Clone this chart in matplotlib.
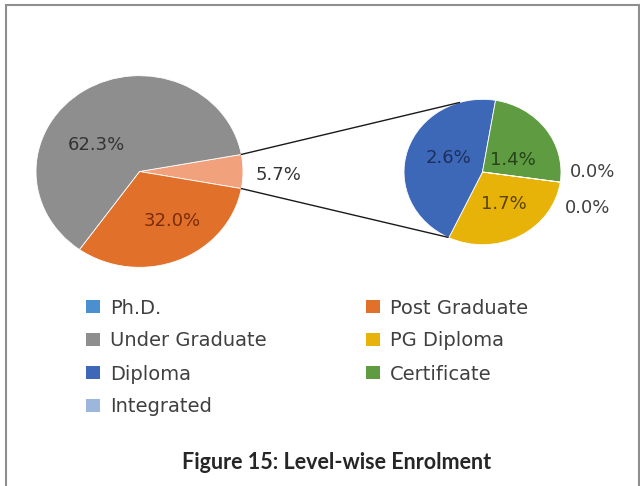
import numpy as np
import matplotlib
matplotlib.use("Agg")
import matplotlib.pyplot as plt
from matplotlib.patches import Patch, Rectangle

# ---------------- data ----------------
main_labels = ["Post Graduate", "Under Graduate"]
main_values = [32.0, 62.3]
sub_labels = ["PG Diploma", "Diploma", "Certificate", "Integrated", "Ph.D."]
sub_values = [1.7, 2.6, 1.4, 0.0, 0.0]
legend_order = ["Ph.D.", "Post Graduate", "Under Graduate", "PG Diploma",
                "Diploma", "Certificate", "Integrated"]
title = "Figure 15: Level-wise Enrolment"

# ---------------- style ----------------
colors = {
    "Ph.D.": "#4a8fd0",
    "Post Graduate": "#e0702a",
    "Under Graduate": "#8e8e8e",
    "PG Diploma": "#e8b308",
    "Diploma": "#3d68b8",
    "Certificate": "#5f9b40",
    "Integrated": "#9cb7db",
}
other_color = "#f1a27c"
label_colors = {
    "Post Graduate": "#7a2c0a",
    "Under Graduate": "#333333",
    "other": "#333333",
    "PG Diploma": "#5a4300",
    "Diploma": "#1c2f5e",
    "Certificate": "#26431a",
    "Integrated": "#404040",
    "Ph.D.": "#404040",
}

W, H = 640, 486
S = 1.08  # horizontal stretch of the original screenshot


def Y(y_img):
    return (H - y_img) * S


fig = plt.figure(figsize=(6.4, 4.86), dpi=100)
ax = fig.add_axes([0, 0, 1, 1])

# left pie
other_value = sum(sub_values)
left_vals = [other_value] + main_values
left_cols = [other_color] + [colors[k] for k in main_labels]
lc = (139.5, Y(171.5))
lr = 103.5
left_start = 180.0 * other_value / sum(left_vals)
ax.pie(left_vals, colors=left_cols, center=lc, radius=lr, startangle=left_start,
       counterclock=False, frame=True,
       wedgeprops=dict(edgecolor="white", linewidth=0.6))

# right pie
rc = (482.5, Y(172))
rr = 78.5
right_start = -8
ax.pie(sub_values, colors=[colors[k] for k in sub_labels], center=rc, radius=rr,
       startangle=right_start, counterclock=False, frame=True,
       wedgeprops=dict(edgecolor="white", linewidth=0.6))

ax.set_xlim(0, W)
ax.set_ylim(0, H * S)
ax.set_aspect("auto")
ax.axis("off")


def polar(c, r, ang, d):
    a = np.deg2rad(ang)
    return c[0] + d * r * np.cos(a), c[1] + d * r * np.sin(a)


# connector lines
for a_left, a_right in [(left_start, 107), (-left_start, 244)]:
    p0 = polar(lc, lr, a_left, 1.0)
    p1 = polar(rc, rr, a_right, 1.0)
    ax.plot([p0[0], p1[0]], [p0[1], p1[1]], color="#1a1a1a", lw=1.0,
            solid_capstyle="round", zorder=3)

# data labels (position: angle, distance relative to pie radius)
fs = 13
left_label_pos = {"other": (-1.6, 1.34), "Post Graduate": (301.5, 0.60),
                  "Under Graduate": (146.8, 0.50)}
for key, val in [("other", other_value)] + list(zip(main_labels, main_values)):
    x, y = polar(lc, lr, *left_label_pos[key])
    ax.text(x, y, f"{val:.1f}%", ha="center", va="center", fontsize=fs,
            color=label_colors[key], family="DejaVu Sans")

right_label_pos = {"PG Diploma": (-58, 0.515), "Diploma": (157, 0.476),
                   "Certificate": (23.5, 0.424), "Integrated": (0, 1.40),
                   "Ph.D.": (-20, 1.43)}
for key, val in zip(sub_labels, sub_values):
    x, y = polar(rc, rr, *right_label_pos[key])
    ax.text(x, y, f"{val:.1f}%", ha="center", va="center", fontsize=fs,
            color=label_colors[key], family="DejaVu Sans")

# legend: two columns, row-major order
handles = [Patch(facecolor=colors[k], edgecolor="none", label=k) for k in legend_order]
col1 = handles[0::2]
col2 = handles[1::2]
leg_kw = dict(frameon=False, handlelength=0.72, handleheight=0.68,
              handletextpad=0.5, labelspacing=0.72, borderpad=0, borderaxespad=0,
              prop=dict(family="DejaVu Sans", size=14))
leg1 = ax.legend(handles=col1, loc="upper left",
                 bbox_to_anchor=(86 / W, 1 - 298.5 / H), bbox_transform=fig.transFigure,
                 **leg_kw)
for t in leg1.get_texts():
    t.set_color("#404040")
ax.add_artist(leg1)
leg2 = ax.legend(handles=col2, loc="upper left",
                 bbox_to_anchor=(366 / W, 1 - 298.5 / H), bbox_transform=fig.transFigure,
                 **leg_kw)
for t in leg2.get_texts():
    t.set_color("#404040")

# title
fig.text(337 / W, 1 - 462 / H, title, ha="center", va="center", fontsize=15.5,
         fontweight="bold", family="Lato", color="#262626")

# outer frame
fig.patches.append(Rectangle((6 / W, -0.02), (639 - 6) / W, 1 - 5 / H + 0.02,
                             transform=fig.transFigure, fill=False,
                             edgecolor="#8f8f8f", linewidth=1.5))

fig.savefig("out.png", dpi=100, facecolor="white")
